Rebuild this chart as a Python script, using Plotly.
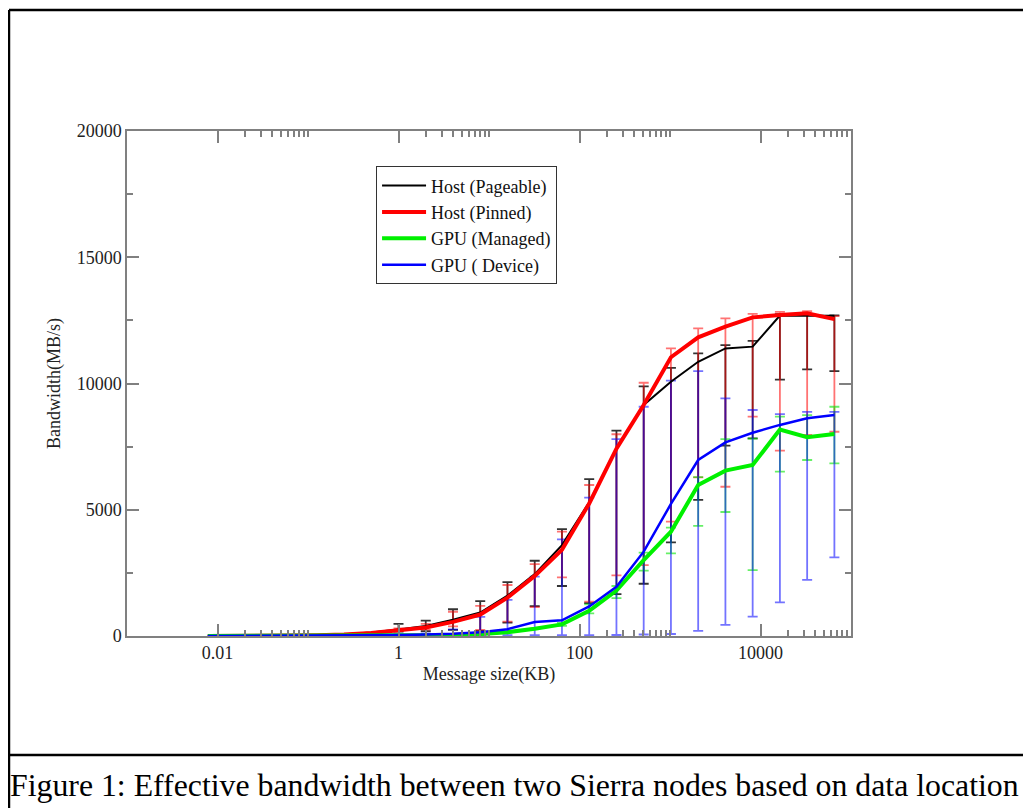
import plotly.graph_objects as go

# Message sizes (KB): 8 B ... 64 MB
size_kb = [0.0078125, 0.015625, 0.03125, 0.0625, 0.125, 0.25, 0.5,
           1, 2, 4, 8, 16, 32, 64, 128, 256, 512, 1024, 2048, 4096,
           8192, 16384, 32768, 65536]

# Bandwidth (MB/s)
pageable = [2, 4, 8, 16, 35, 70, 140, 260, 400, 640, 930, 1600, 2450, 3600,
            5300, 7450, 9150, 10070, 10860, 11390, 11460, 12690, 12690, 12680]
pinned = [2, 4, 8, 15, 30, 60, 120, 230, 340, 560, 850, 1520, 2380, 3420,
          5250, 7420, 9150, 11040, 11830, 12250, 12620, 12710, 12780, 12550]
managed = [1, 2, 3, 5, 7, 10, 14, 20, 28, 40, 75, 150, 290, 460,
           1000, 1800, 3010, 4130, 5980, 6550, 6770, 8180, 7870, 8000]
device = [3, 5, 7, 10, 14, 20, 28, 40, 55, 85, 150, 270, 550, 620,
          1170, 1950, 3340, 5230, 6970, 7670, 8050, 8360, 8620, 8750]

# Error bar extents (max / min), measured from 1 KB upward
err_size_kb = size_kb[7:]
pageable_hi = [480, 610, 1060, 1380, 2130, 2980, 4230, 6210, 8130, 9890,
               10620, 11190, 11520, 11690, 12750, 12760, 12700]
pageable_lo = [170, 190, 240, 200, 530, 1180, 1980, 1300, 1660, 2070,
               3710, 5390, 7540, 7830, 10150, 10560, 10490]
pinned_hi = [300, 480, 960, 1190, 2020, 2850, 4130, 5980, 7990, 10030,
             11390, 12180, 12580, 12760, 12840, 12870, 12670]
pinned_lo = [200, 250, 380, 240, 570, 1140, 2320, 1360, 2400, 2810,
             4530, 6280, 5910, 8690, 7340, 7960, 8090]
managed_hi = [20, 28, 40, 75, 150, 290, 520, 1250, 1980, 3300,
              4290, 6290, 7800, 7820, 8690, 8750, 9080]
managed_lo = [20, 28, 40, 75, 150, 290, 400, 900, 1500, 2590,
              3270, 4360, 4910, 2610, 6510, 6970, 6840]
device_hi = [60, 100, 264, 760, 1430, 2350, 3830, 5480, 7800, 9080,
             10110, 10490, 9410, 8950, 8790, 8880, 8880]
device_lo = [20, 20, 20, 20, 30, 30, 30, 30, 40, 60,
             80, 200, 440, 770, 1330, 2220, 3110]

x_tickvals = [0.01, 1, 100, 10000]
x_ticktext = ["0.01", "1", "100", "10000"]
x_minor_vals = [0.02, 0.03, 0.04, 0.05, 0.06, 0.07, 0.08, 0.09, 0.1,
                2, 3, 4, 5, 6, 7, 8, 9, 10,
                200, 300, 400, 500, 600, 700, 800, 900, 1000,
                20000, 30000, 40000, 50000, 60000, 70000, 80000, 90000, 100000]

series = [
    ("Host (Pageable)", pageable, pageable_hi, pageable_lo, "#000000", 2, "rgba(0,0,0,0.8)"),
    ("Host (Pinned)", pinned, pinned_hi, pinned_lo, "#ff0000", 4, "rgba(255,0,0,0.55)"),
    ("GPU (Managed)", managed, managed_hi, managed_lo, "#00f000", 4, "rgba(0,230,0,0.6)"),
    ("GPU ( Device)", device, device_hi, device_lo, "#0000ff", 2.5, "rgba(0,0,255,0.55)"),
]

FONT = "Liberation Serif, Times New Roman, serif"

fig = go.Figure()

# error bars first (underneath lines)
for name, y, hi, lo, color, w, ecolor in series:
    yv = y[7:]
    plus = [h - v for h, v in zip(hi, yv)]
    minus = [v - l for v, l in zip(yv, lo)]
    fig.add_trace(go.Scatter(
        x=err_size_kb, y=yv, mode="markers",
        marker=dict(size=2, opacity=0, color=color),
        error_y=dict(type="data", symmetric=False, array=plus, arrayminus=minus,
                     color=ecolor, thickness=1.8, width=5),
        showlegend=False, hoverinfo="skip"))

for name, y, hi, lo, color, w, ecolor in series:
    fig.add_trace(go.Scatter(
        x=size_kb, y=y, mode="lines", name=name,
        line=dict(color=color, width=w)))

axis_color = "#808080"

fig.update_xaxes(
    type="log", range=[-3, 5],
    tickmode="array", tickvals=x_tickvals, ticktext=x_ticktext,
    ticks="inside", ticklen=12, tickwidth=1.5, tickcolor=axis_color,
    minor=dict(tickmode="array", tickvals=x_minor_vals, ticks="inside",
               ticklen=6, tickwidth=1.5, tickcolor=axis_color, showgrid=False),
    showline=True, linecolor=axis_color, linewidth=1.5, mirror="allticks",
    showgrid=False, zeroline=False,
    tickfont=dict(family=FONT, size=18, color="#222222"),
    title=dict(text="Message size(KB)", font=dict(family=FONT, size=18, color="#222222"),
               standoff=5),
)
fig.update_yaxes(
    range=[0, 20000], tickmode="linear", tick0=0, dtick=5000, tickformat="d",
    ticks="inside", ticklen=12, tickwidth=1.5, tickcolor=axis_color,
    minor=dict(tick0=0, dtick=2500, ticks="inside", ticklen=6, tickwidth=1.5,
               tickcolor=axis_color, showgrid=False),
    showline=True, linecolor=axis_color, linewidth=1.5, mirror="allticks",
    showgrid=False, zeroline=False,
    tickfont=dict(family=FONT, size=18, color="#222222"),
    title=dict(text="Bandwidth(MB/s)", font=dict(family=FONT, size=18, color="#222222"),
               standoff=11),
)

fig.update_layout(
    width=1031, height=808,
    margin=dict(l=119, r=188, t=123, b=180, autoexpand=False),
    paper_bgcolor="white", plot_bgcolor="white",
    showlegend=True,
    legend=dict(x=0.344, y=0.93, xanchor="left", yanchor="top",
                bgcolor="white", bordercolor="#333333", borderwidth=1,
                font=dict(family=FONT, size=18, color="#111111"),
                itemwidth=44, traceorder="normal"),
)

# page frame: top border, left border, caption separator
fig.add_shape(type="line", xref="paper", yref="paper",
              x0=-0.163, x1=1.27, y0=1.2396, y1=1.2396,
              line=dict(color="black", width=2.5))
fig.add_shape(type="line", xref="paper", yref="paper",
              x0=-0.163, x1=-0.163, y0=1.2396, y1=-0.36,
              line=dict(color="black", width=2.5))
fig.add_shape(type="line", xref="paper", yref="paper",
              x0=-0.163, x1=1.27, y0=-0.2356, y1=-0.2356,
              line=dict(color="black", width=2.5))

fig.add_annotation(
    text="Figure 1: Effective bandwidth between two Sierra nodes based on data location",
    xref="paper", yref="paper", x=-0.1643, y=-0.297, xanchor="left", yanchor="middle",
    showarrow=False, font=dict(family=FONT, size=31.8, color="black"))

fig.write_html("out.html")
